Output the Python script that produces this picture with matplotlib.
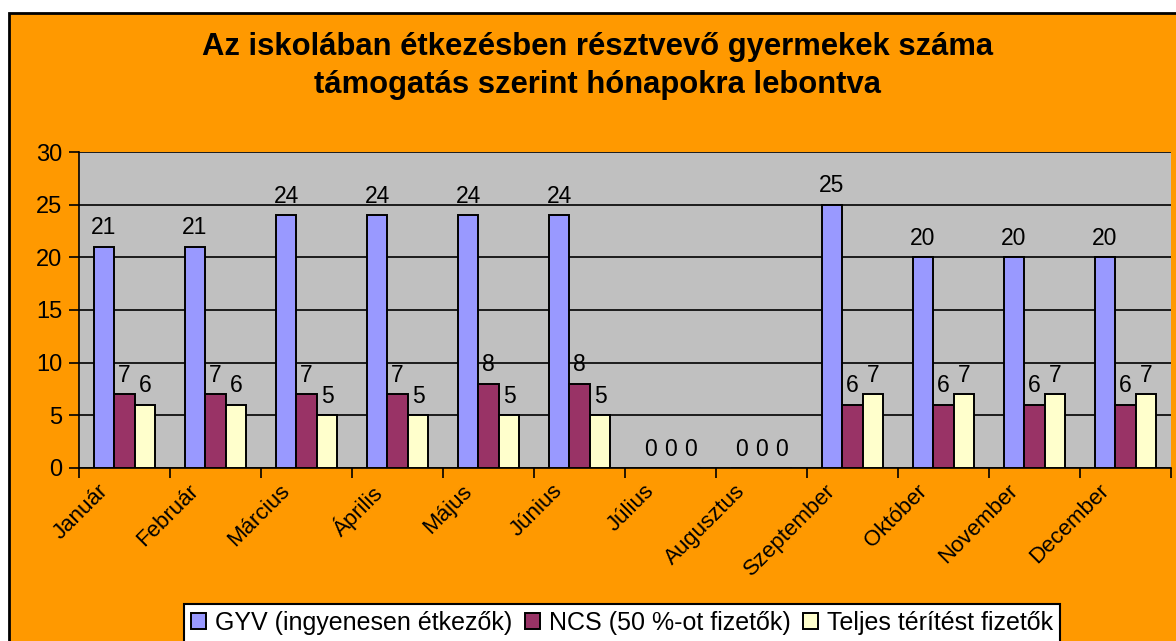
import numpy as np
import matplotlib.pyplot as plt
from matplotlib.patches import Rectangle

plt.rcParams['font.family'] = ['Liberation Sans', 'DejaVu Sans']

honapok = ['Január', 'Február', 'Március', 'Április', 'Május', 'Június',
           'Július', 'Augusztus', 'Szeptember', 'Október', 'November', 'December']
gyv = [21, 21, 24, 24, 24, 24, 0, 0, 25, 20, 20, 20]
ncs = [7, 7, 7, 7, 8, 8, 0, 0, 6, 6, 6, 6]
teljes = [6, 6, 5, 5, 5, 5, 0, 0, 7, 7, 7, 7]
sorozatok = ['GYV (ingyenesen étkezők)', 'NCS (50 %-ot fizetők)', 'Teljes térítést fizetők']
szinek = ['#9999FF', '#993366', '#FFFFCC']

fig = plt.figure(figsize=(11.76, 6.41), dpi=100, facecolor='white')
# orange chart area with black border
fig.patches.append(Rectangle((9/1176, -0.05), 1.1, 1 - 13/641 + 0.05,
                             transform=fig.transFigure, facecolor='#FF9900',
                             edgecolor='black', linewidth=2, zorder=-5))

ax = fig.add_axes([79/1176, 1 - 468/641, 1092/1176, 316/641])
ax.set_facecolor('#C0C0C0')

x = np.arange(len(honapok))
w = 0.225
for i, (vals, szin) in enumerate(zip([gyv, ncs, teljes], szinek)):
    pos = x + (i - 1) * w
    ax.bar(pos, vals, w, color=szin, edgecolor='black', linewidth=1.4, label=sorozatok[i], zorder=3)
    for p, v in zip(pos, vals):
        ax.text(p, v + 0.7, str(v), ha='center', va='bottom', fontsize=16.5, zorder=4)

ax.set_xlim(-0.5, len(honapok) - 0.5)
ax.set_ylim(0, 30)
ax.set_yticks(range(0, 31, 5))
ax.yaxis.grid(True, color='black', linewidth=1.2)
ax.set_axisbelow(True)
ax.tick_params(axis='y', labelsize=17, length=7, width=1.2, direction='out', pad=5)
ax.set_xticks(np.arange(-0.5, len(honapok), 1))
ax.set_xticklabels([])
# month labels sit a bit left of the category centre, like in Excel
ax.set_xticks(x - 0.3, minor=True)
ax.set_xticklabels(honapok, minor=True, rotation=45, ha='right', va='top',
                   rotation_mode='anchor', fontsize=16,
                   family=['Liberation Sans Narrow', 'Liberation Sans'])
ax.tick_params(axis='x', which='minor', length=0, pad=9)
ax.tick_params(axis='x', which='major', length=7, width=1.2)
for s in ax.spines.values():
    s.set_color('black')
    s.set_linewidth(1.2)
ax.spines['top'].set_visible(False)
ax.spines['right'].set_visible(False)

fig.text(598/1176, 1 - 47/641, 'Az iskolában étkezésben résztvevő gyermekek száma',
         ha='center', va='center', fontsize=22.3, fontweight='bold')
fig.text(598/1176, 1 - 85/641, 'támogatás szerint hónapokra lebontva',
         ha='center', va='center', fontsize=22.3, fontweight='bold')

leg = fig.legend(loc='center', bbox_to_anchor=(622/1176, 1 - 623/641), ncol=3,
                 fontsize=18, frameon=True, fancybox=False, edgecolor='black',
                 handlelength=0.6, handleheight=0.6, handletextpad=0.35,
                 columnspacing=0.5, borderpad=0.3, framealpha=1)
leg.get_frame().set_linewidth(1.5)

fig.savefig('out.png', dpi=100, facecolor='white')
